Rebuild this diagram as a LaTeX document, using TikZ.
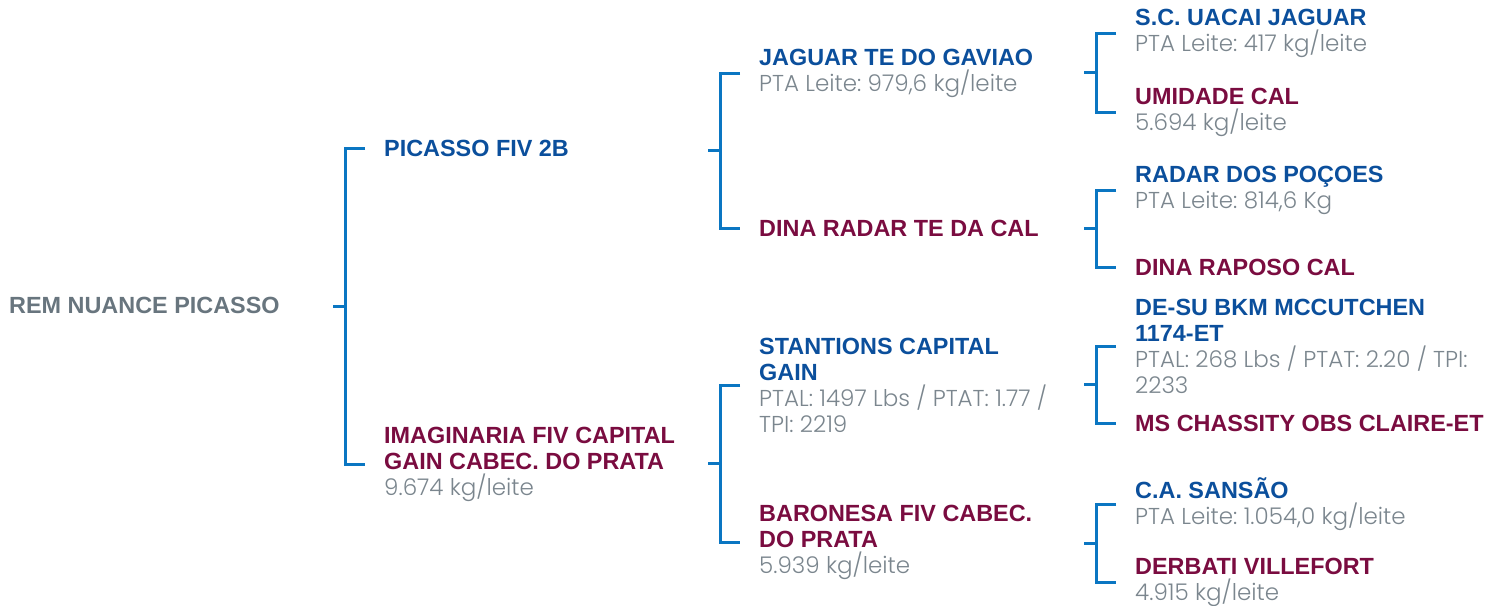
\documentclass[tikz,border=0pt]{standalone}
\usepackage{fontspec}
\usepackage{tikz}
\usetikzlibrary{positioning,calc}

\newfontfamily\namefamily{Liberation Sans}
\newfontfamily\detailfamily{Poppins Light}
\definecolor{nblue}{HTML}{0B4F9C}
\definecolor{nred}{HTML}{7A0C40}
\definecolor{lblue}{HTML}{0A76C2}
\definecolor{rgray}{HTML}{68757E}
\definecolor{dgray}{HTML}{7B868E}
\frenchspacing
\newcommand\namefont{\namefamily\bfseries\fontsize{23.4}{26}\selectfont}
\newcommand\dt[1]{{\detailfamily\mdseries\fontsize{23}{26}\selectfont\color{dgray}#1}}

\begin{document}
\begin{tikzpicture}[
        x=1pt, y=-1pt,
        every node/.style={anchor=west, inner sep=0pt, align=left},
        sire/.style={text=nblue, font=\namefont},
        dam/.style={text=nred, font=\namefont},
        bracket/.style={draw=lblue, line width=3pt}
    ]
    \useasboundingbox (0,0) rectangle (1485,605);

    % Nodes
    \node (root) [text=rgray, font=\namefont] at (9,305) {REM NUANCE PICASSO};

    \node (picasso) [sire] at (384,148) {PICASSO FIV 2B};
    \node (imaginaria) [dam] at (384,464) {IMAGINARIA FIV CAPITAL\\GAIN CABEC. DO PRATA\\\dt{9.674 kg/leite}};

    \node (jaguar) [sire] at (759,73) {JAGUAR TE DO GAVIAO\\\dt{PTA Leite: 979,6 kg/leite}};
    \node (dinaradar) [dam] at (759,228) {DINA RADAR TE DA CAL};
    \node (stantions) [sire] at (759,385) {STANTIONS CAPITAL\\GAIN\\\dt{PTAL: 1497 Lbs / PTAT: 1.77 /}\\\dt{TPI: 2219}};
    \node (baronesa) [dam] at (759,542) {BARONESA FIV CABEC.\\DO PRATA\\\dt{5.939 kg/leite}};

    \node (uacai) [sire] at (1135,33) {S.C. UACAI JAGUAR\\\dt{PTA Leite: 417 kg/leite}};
    \node (umidade) [dam] at (1135,112) {UMIDADE CAL\\\dt{5.694 kg/leite}};
    \node (radar) [sire] at (1135,190) {RADAR DOS POÇOES\\\dt{PTA Leite: 814,6 Kg}};
    \node (raposo) [dam] at (1135,267) {DINA RAPOSO CAL};
    \node (desu) [sire] at (1135,346) {DE-SU BKM MCCUTCHEN\\1174-ET\\\dt{PTAL: 268 Lbs / PTAT: 2.20 / TPI:}\\\dt{2233}};
    \node (chassity) [dam] at (1135,423) {MS CHASSITY OBS CLAIRE-ET};
    \node (sansao) [sire] at (1135,504) {C.A. SANSÃO\\\dt{PTA Leite: 1.054,0 kg/leite}};
    \node (derbati) [dam] at (1135,582) {DERBATI VILLEFORT\\\dt{4.915 kg/leite}};

    % Edges
    \foreach \up/\down in {picasso/imaginaria, jaguar/dinaradar, stantions/baronesa,
        uacai/umidade, radar/raposo, desu/chassity, sansao/derbati}
    {
        \draw[bracket] ([xshift=-19pt]\up.west) -- ([xshift=-39pt]\up.west)
            -- ([xshift=-39pt]\down.west) -- ([xshift=-19pt]\down.west);
        \draw[bracket] ($([xshift=-39pt]\up.west)!.5!([xshift=-39pt]\down.west)$) -- ++(-12pt,0);
    }

\end{tikzpicture}
\end{document}
